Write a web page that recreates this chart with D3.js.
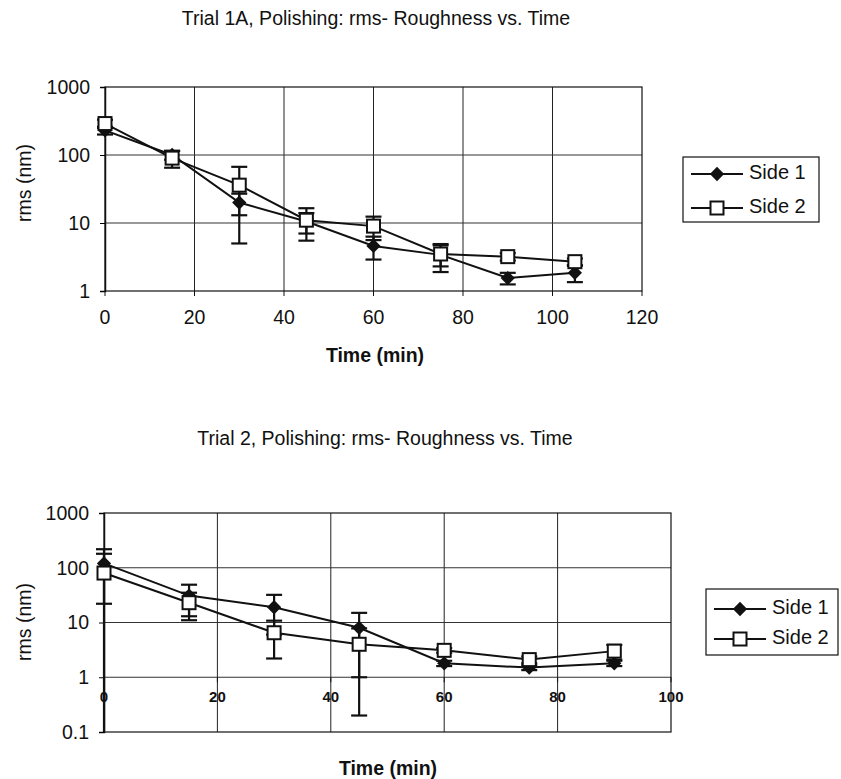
<!DOCTYPE html>
<html>
<head>
<meta charset="utf-8">
<script src="https://cdn.jsdelivr.net/npm/d3@7"></script>
<style>
  body { margin: 0; background: #fff; }
  text { font-family: "Liberation Sans", Arial, sans-serif; fill: #111; }
</style>
</head>
<body>
<svg width="841" height="779"></svg>
<script>
// Trial 1A
const time1 = [0, 15, 30, 45, 60, 75, 90, 105];
const t1Side1 = [230, 100, 20, 10.5, 4.6, 3.4, 1.55, 1.85];
const t1Side1Err = [30, 15, 7, 3.5, 1.7, 1.5, 0.3, 0.5];
const t1Side2 = [290, 90, 36, 11, 9, 3.5, 3.2, 2.7];
const t1Side2Err = [40, 25, 31, 5.5, 3.4, 1.2, 0.4, 0.3];
const t1XTicks = [0, 20, 40, 60, 80, 100, 120];
const t1YTicks = [1, 10, 100, 1000];

// Trial 2
const time2 = [0, 15, 30, 45, 60, 75, 90];
const t2Side1 = [120, 31, 19, 8, 1.8, 1.5, 1.8];
const t2Side1Err = [98, 18, 13, 7, 0.2, 0.15, 0.2];
const t2Side2 = [80, 23, 6.5, 4, 3.1, 2.1, 3.0];
const t2Side2Err = [100, 12, 4.3, 3.8, 0.3, 0.3, 0.9];
const t2XTicks = [20, 40, 60, 80, 100];
const t2YTicks = [0.1, 1, 10, 100, 1000];

const seriesNames = ["Side 1", "Side 2"];

const svg = d3.select("svg");
const fmt = d3.format("~g");

const diamond = d3.symbol().type(d3.symbolDiamond2).size(130);

const drawChart = (cfg) => {
    const g = svg.append("g").attr("transform", `translate(${cfg.left},${cfg.top})`);
    const x = d3.scaleLinear().domain(cfg.xDomain).range([0, cfg.width]);
    const y = d3.scaleLog().domain(cfg.yDomain).range([cfg.height, 0]);
    const xAxisY = y(cfg.xCross);

    // x tick labels (drawn under the grid in trial 2)
    g.selectAll(".xlab")
     .data(cfg.xTicks)
     .join("text")
     .attr("x", d => x(d))
     .attr("y", xAxisY + cfg.xLabelDy)
     .attr("text-anchor", "middle")
     .attr("dominant-baseline", "middle")
     .attr("font-size", cfg.xLabelSize)
     .attr("font-weight", cfg.xLabelWeight)
     .text(d => d);

    // grid
    g.selectAll(".vgrid")
     .data(cfg.xTicks.filter(d => d > cfg.xDomain[0] && d < cfg.xDomain[1]))
     .join("line")
     .attr("x1", d => x(d)).attr("x2", d => x(d))
     .attr("y1", 0).attr("y2", cfg.height)
     .attr("stroke", "#222").attr("stroke-width", 1);

    g.selectAll(".hgrid")
     .data(cfg.yTicks.filter(d => d > cfg.yDomain[0] && d < cfg.yDomain[1]))
     .join("line")
     .attr("x1", 0).attr("x2", cfg.width)
     .attr("y1", d => y(d)).attr("y2", d => y(d))
     .attr("stroke", "#333").attr("stroke-width", 1);

    g.append("rect")
     .attr("width", cfg.width).attr("height", cfg.height)
     .attr("fill", "none").attr("stroke", "#111").attr("stroke-width", 1.2);

    // y axis
    const yAxis = g.append("g")
                   .call(d3.axisLeft(y).tickValues(cfg.yTicks).tickFormat(fmt).tickSize(5).tickPadding(10));
    yAxis.select(".domain").attr("stroke", "#111").attr("stroke-width", 1.5);
    yAxis.selectAll("text").attr("font-size", 19.5).style("font-family", "Liberation Sans, Arial, sans-serif");

    // x axis ticks
    g.selectAll(".xtick")
     .data(cfg.xTicks)
     .join("line")
     .attr("x1", d => x(d)).attr("x2", d => x(d))
     .attr("y1", xAxisY).attr("y2", xAxisY + 5)
     .attr("stroke", "#111");

    const lo = (v, e) => (v - e > cfg.yDomain[0] ? y(v - e) : cfg.height);

    cfg.series.forEach((s, i) => {
        const pts = cfg.time.map((t, j) => ({ t, v: s.values[j], e: s.err[j] }));
        const line = d3.line().x(d => x(d.t)).y(d => y(d.v));

        g.append("path")
         .datum(pts)
         .attr("d", line)
         .attr("fill", "none")
         .attr("stroke", "#111")
         .attr("stroke-width", 2);

        const eb = g.append("g").attr("stroke", "#111").attr("stroke-width", 2.2);
        eb.selectAll(".ebar")
          .data(pts)
          .join("line")
          .attr("x1", d => x(d.t)).attr("x2", d => x(d.t))
          .attr("y1", d => y(d.v + d.e)).attr("y2", d => lo(d.v, d.e));
        eb.selectAll(".ecapT")
          .data(pts)
          .join("line")
          .attr("x1", d => x(d.t) - 8).attr("x2", d => x(d.t) + 8)
          .attr("y1", d => y(d.v + d.e)).attr("y2", d => y(d.v + d.e));
        eb.selectAll(".ecapB")
          .data(pts.filter(d => d.v - d.e > cfg.yDomain[0]))
          .join("line")
          .attr("x1", d => x(d.t) - 8).attr("x2", d => x(d.t) + 8)
          .attr("y1", d => y(d.v - d.e)).attr("y2", d => y(d.v - d.e));

        s.points = pts;
    });

    // markers on top
    cfg.series.forEach((s, i) => {
        if (i === 0) {
            g.selectAll(".m1")
             .data(s.points)
             .join("path")
             .attr("transform", d => `translate(${x(d.t)},${y(d.v)})`)
             .attr("d", diamond)
             .attr("fill", "#111");
        } else {
            g.selectAll(".m2")
             .data(s.points)
             .join("rect")
             .attr("x", d => x(d.t) - 6.5).attr("y", d => y(d.v) - 6.5)
             .attr("width", 13).attr("height", 13)
             .attr("fill", "#fff").attr("stroke", "#111").attr("stroke-width", 2);
        }
    });

    // titles
    svg.append("text")
       .attr("x", cfg.titleX).attr("y", cfg.titleY)
       .attr("text-anchor", "middle")
       .attr("font-size", 19.5)
       .text(cfg.title);

    svg.append("text")
       .attr("x", cfg.xTitleX).attr("y", cfg.xTitleY)
       .attr("text-anchor", "middle")
       .attr("font-size", 19.5)
       .attr("font-weight", "bold")
       .text("Time (min)");

    svg.append("text")
       .attr("transform", `translate(${cfg.yTitleX},${cfg.yTitleY}) rotate(-90)`)
       .attr("text-anchor", "middle")
       .attr("font-size", 19.5)
       .text("rms (nm)");

    // legend
    const lg = svg.append("g").attr("transform", `translate(${cfg.legend.x},${cfg.legend.y})`);
    lg.append("rect")
      .attr("width", cfg.legend.w).attr("height", cfg.legend.h)
      .attr("fill", "#fff").attr("stroke", "#111").attr("stroke-width", 1.2);
    seriesNames.forEach((name, i) => {
        const ry = cfg.legend.rows[i];
        lg.append("line")
          .attr("x1", 8).attr("x2", 60).attr("y1", ry).attr("y2", ry)
          .attr("stroke", "#111").attr("stroke-width", 2);
        if (i === 0) {
            lg.append("path").attr("transform", `translate(34,${ry})`).attr("d", diamond).attr("fill", "#111");
        } else {
            lg.append("rect").attr("x", 27.5).attr("y", ry - 6.5).attr("width", 13).attr("height", 13)
              .attr("fill", "#fff").attr("stroke", "#111").attr("stroke-width", 2);
        }
        lg.append("text")
          .attr("x", 66).attr("y", ry)
          .attr("dominant-baseline", "middle")
          .attr("font-size", 20)
          .text(name);
    });
};

drawChart({
    left: 105, top: 87, width: 537, height: 204,
    xDomain: [0, 120], yDomain: [1, 1000], xCross: 1,
    xTicks: t1XTicks, yTicks: t1YTicks,
    xLabelDy: 28, xLabelSize: 19.5, xLabelWeight: "normal",
    time: time1,
    series: [{ values: t1Side1, err: t1Side1Err }, { values: t1Side2, err: t1Side2Err }],
    title: "Trial 1A, Polishing: rms- Roughness vs. Time", titleX: 376, titleY: 25,
    xTitleX: 375, xTitleY: 362,
    yTitleX: 31, yTitleY: 183,
    legend: { x: 683, y: 157, w: 136, h: 65, rows: [17, 51] }
});

drawChart({
    left: 104, top: 513, width: 567, height: 219,
    xDomain: [0, 100], yDomain: [0.1, 1000], xCross: 1,
    xTicks: [0].concat(t2XTicks), yTicks: t2YTicks,
    xLabelDy: 21, xLabelSize: 15, xLabelWeight: "bold",
    time: time2,
    series: [{ values: t2Side1, err: t2Side1Err }, { values: t2Side2, err: t2Side2Err }],
    title: "Trial 2, Polishing: rms- Roughness vs. Time", titleX: 385, titleY: 445,
    xTitleX: 388, xTitleY: 775,
    yTitleX: 31, yTitleY: 622,
    legend: { x: 706, y: 589, w: 132, h: 66, rows: [20, 50] }
});
</script>
</body>
</html>
